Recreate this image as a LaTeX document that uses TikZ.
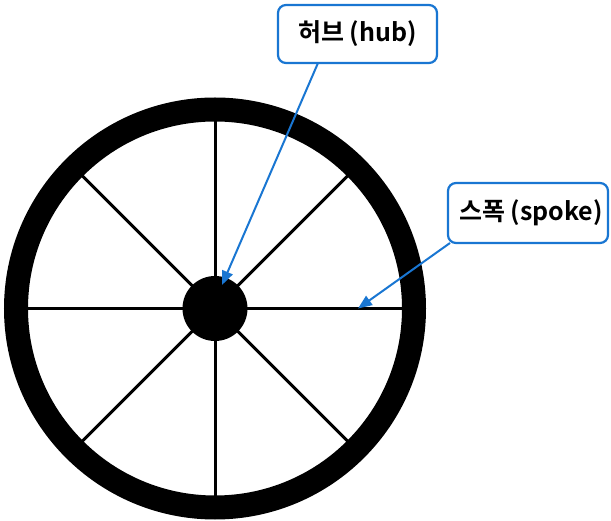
\documentclass[tikz,border=0pt]{standalone}
\usepackage{fontspec}
\newfontfamily\krfont{Noto Sans CJK KR}[BoldFont={Noto Sans CJK KR Bold}]
\usetikzlibrary{arrows.meta,calc}
\definecolor{callblue}{RGB}{25,118,210}
\tikzset{
  callout/.style={draw=callblue, line width=2.2pt, rounded corners=8pt, fill=white,
    minimum height=58pt, inner sep=0pt, font=\krfont\bfseries\fontsize{25}{29}\selectfont},
  pointer/.style={draw=callblue, line width=2pt, -{Triangle[length=14pt,width=11pt]}},
  spokeline/.style={line width=3pt},
  rim/.style={line width=24pt}
}
\begin{document}
\begin{tikzpicture}[x=1pt,y=-1pt]
\useasboundingbox (0,0) rectangle (611,521);
\coordinate (c) at (215,308.5);
\foreach \a in {0,45,...,315}{
  \draw[spokeline] (c) -- ($(c)+(\a:189)$);
}
\draw[rim] (c) circle[radius=199pt];
\node[circle, fill=black, minimum size=65pt, inner sep=0pt] (hub) at (c) {};
\node[callout, minimum width=159pt] (hubbox) at (357.5,34) {허브 (hub)};
\node[callout, minimum width=160pt, minimum height=60pt] (spokebox) at (528,213) {\hspace*{6pt}스폭 (spoke)};
\coordinate (hubstart) at (318,63);
\coordinate (hubtip) at (222,285);
\coordinate (spokestart) at (450,243);
\coordinate (spokept) at (358,308.5);
\draw[pointer] (hubstart) -- (hubtip);
\draw[pointer] (spokestart) -- (spokept);
\end{tikzpicture}
\end{document}
